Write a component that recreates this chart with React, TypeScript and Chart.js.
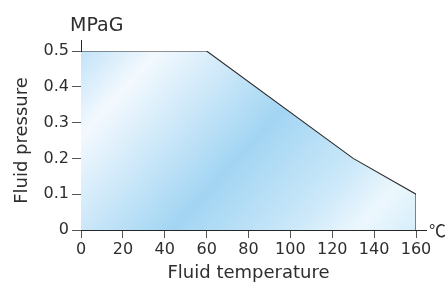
import { useEffect, useRef } from 'react';
import { Chart, registerables } from 'chart.js';

Chart.register(...registerables);

// ---- data ----
const temperatures = [0, 60, 130, 160, 160];
const pressures = [0.5, 0.5, 0.2, 0.1, 0];
const xTickValues = [0, 20, 40, 60, 80, 100, 120, 140, 160];
const yTickValues = [0, 0.1, 0.2, 0.3, 0.4, 0.5];
const xTitle = 'Fluid temperature';
const yTitle = 'Fluid pressure';
const yUnit = 'MPaG';
const xUnit = '℃';

const FONT = "'DejaVu Sans', sans-serif";
const TEXT = '#2e2e2e';
const AXIS = '#262626';
const TICK = '#555555';

export default function App() {
  const ref = useRef<HTMLCanvasElement>(null);

  useEffect(() => {
    const canvas = ref.current;
    if (!canvas) return;

    const extras = {
      id: 'extras',
      afterDraw(chart: any) {
        const { ctx, chartArea } = chart;
        const { left, right, top, bottom } = chartArea;
        const ax = Math.round(left - 0.5) + 0.5;
        const ay = Math.round(bottom - 0.5) + 0.5;
        ctx.save();
        ctx.strokeStyle = AXIS;
        ctx.lineWidth = 1;
        ctx.beginPath();
        ctx.moveTo(ax, top + 1);
        ctx.lineTo(ax, top - 11);
        ctx.moveTo(right - 1, ay);
        ctx.lineTo(right + 11, ay);
        ctx.stroke();
        ctx.fillStyle = TEXT;
        ctx.textAlign = 'left';
        ctx.textBaseline = 'alphabetic';
        ctx.font = `19px ${FONT}`;
        ctx.fillText(yUnit, left - 11, top - 20.5);
        ctx.font = `17px 'Noto Sans CJK JP', ${FONT}`;
        ctx.fillText(xUnit, right + 13, bottom + 7);
        ctx.restore();
      },
    };

    const chart = new Chart(canvas, {
      type: 'line',
      data: {
        datasets: [
          {
            data: temperatures.map((t, i) => ({ x: t, y: pressures[i] })),
            borderColor: '#2a2a2a',
            borderWidth: 1.1,
            pointRadius: 0,
            tension: 0,
            fill: 'origin',
            backgroundColor: (c: any) => {
              const a = c.chart.chartArea;
              if (!a) return 'rgba(0,0,0,0)';
              const w = a.right - a.left;
              const h = a.bottom - a.top;
              const g = c.chart.ctx.createLinearGradient(
                a.left,
                a.top,
                a.left + 0.81 * w,
                a.top + 1.39 * h
              );
              g.addColorStop(0, '#c2e3f8');
              g.addColorStop(0.155, '#f3f9fe');
              g.addColorStop(0.51, '#a2d5f3');
              g.addColorStop(0.75, '#cbe8f9');
              g.addColorStop(0.88, '#ecf7fd');
              g.addColorStop(1, '#d6eefb');
              return g;
            },
          },
        ],
      },
      options: {
        responsive: false,
        animation: false,
        devicePixelRatio: 1,
        layout: { padding: { left: 0, right: 31, top: 51, bottom: 0 } },
        plugins: {
          legend: { display: false },
          tooltip: { enabled: false },
        },
        scales: {
          x: {
            type: 'linear',
            min: 0,
            max: 160,
            afterBuildTicks: (s: any) => {
              s.ticks = xTickValues.map((value) => ({ value }));
            },
            afterFit: (s: any) => {
              s.height = 52;
            },
            ticks: {
              autoSkip: false,
              maxRotation: 0,
              padding: 2,
              color: TEXT,
              font: { family: FONT, size: 16 },
              callback: (v: any) => String(v),
            },
            grid: {
              drawOnChartArea: false,
              drawTicks: true,
              tickLength: 8,
              color: TICK,
              lineWidth: 1,
            },
            border: { display: true, color: AXIS, width: 1 },
            title: {
              display: true,
              text: xTitle,
              color: TEXT,
              font: { family: FONT, size: 18 },
              padding: { top: 0, bottom: -2.6 },
            },
          },
          y: {
            type: 'linear',
            min: 0,
            max: 0.5,
            afterBuildTicks: (s: any) => {
              s.ticks = yTickValues.map((value) => ({ value }));
            },
            afterFit: (s: any) => {
              s.width = 81;
            },
            ticks: {
              padding: 3,
              color: TEXT,
              font: { family: FONT, size: 16 },
              callback: (v: any) => (Number(v) === 0 ? '0' : Number(v).toFixed(1)),
            },
            grid: {
              drawOnChartArea: false,
              drawTicks: true,
              tickLength: 9,
              color: TICK,
              lineWidth: 1,
            },
            border: { display: true, color: AXIS, width: 1 },
            title: {
              display: true,
              text: yTitle,
              color: TEXT,
              font: { family: FONT, size: 18 },
              padding: { top: 11.3, bottom: 0 },
            },
          },
        },
      },
      plugins: [extras],
    } as any);

    return () => chart.destroy();
  }, []);

  return (
    <div style={{ position: 'fixed', left: 0, top: 0, width: 447, height: 282, background: '#fff' }}>
      <canvas ref={ref} width={447} height={282} style={{ display: 'block' }} />
    </div>
  );
}
